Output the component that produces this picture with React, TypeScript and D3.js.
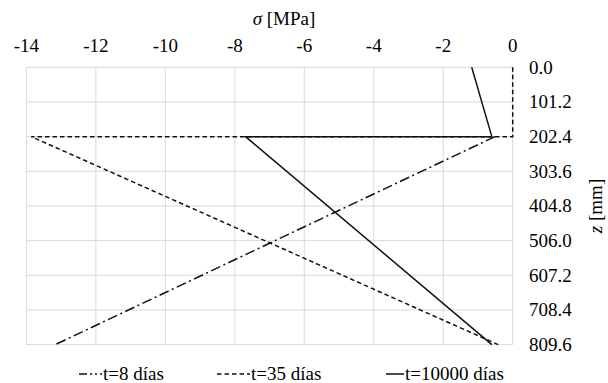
import React from "react";
import * as d3 from "d3";

const xTicks = [-14, -12, -10, -8, -6, -4, -2, 0];
const yTicks = [0.0, 101.2, 202.4, 303.6, 404.8, 506.0, 607.2, 708.4, 809.6];

const s8Sigma = [-0.51, -13.17];
const s8Z = [202.4, 809.6];
const s35Sigma = [0, 0, -13.86, -0.42];
const s35Z = [0, 202.4, 202.4, 809.6];
const s10000Sigma = [-1.18, -0.6, -7.69, -0.6];
const s10000Z = [0, 202.4, 202.4, 809.6];

const seriesNames = ["t=8 días", "t=35 días", "t=10000 días"];
const dashes = ["10,3.5,2,3.5", "4.5,3", ""];
const legendDashes = ["8,3,2,3,2,3", "4.5,3", ""];

const W = 608;
const H = 383;
const FONT = "Liberation Serif, DejaVu Serif, serif";
const ts = { fontFamily: FONT };

export default function App() {
  const x = d3.scaleLinear().domain([-14, 0]).range([26.4, 512.7]);
  const y = d3.scaleLinear().domain([0, 809.6]).range([67.3, 344.6]);
  const line = d3
    .line<[number, number]>()
    .x((d) => x(d[0]))
    .y((d) => y(d[1]));
  const series = [
    d3.zip(s8Sigma, s8Z) as [number, number][],
    d3.zip(s35Sigma, s35Z) as [number, number][],
    d3.zip(s10000Sigma, s10000Z) as [number, number][],
  ];
  const legendX = [79, 217, 386];
  const legendW = [23, 33, 18];
  const legendY = 374;
  return (
    <svg
      width={W}
      height={H}
      style={{ position: "absolute", left: 0, top: 0, fontFamily: FONT }}
      fontFamily={FONT}
    >
      <rect width={W} height={H} fill="#fff" />
      {xTicks.map((t) => (
        <line
          key={"gx" + t}
          x1={x(t)}
          x2={x(t)}
          y1={y(0)}
          y2={y(809.6)}
          stroke="#d9d9d9"
          strokeWidth={1}
        />
      ))}
      {yTicks.map((t) => (
        <line
          key={"gy" + t}
          x1={x(-14)}
          x2={x(0)}
          y1={y(t)}
          y2={y(t)}
          stroke="#d9d9d9"
          strokeWidth={1}
        />
      ))}
      {series.map((s, i) => (
        <path
          key={"s" + i}
          d={line(s) || ""}
          fill="none"
          stroke="#111"
          strokeWidth={1.5}
          strokeDasharray={dashes[i] || undefined}
        />
      ))}
      {xTicks.map((t) => (
        <text
          key={"tx" + t}
          x={x(t)}
          y={52}
          textAnchor="middle"
          fontSize={19}
          fill="#000"
          fontFamily={FONT}
          style={ts}
        >
          {t}
        </text>
      ))}
      {yTicks.map((t) => (
        <text
          key={"ty" + t}
          x={529}
          y={y(t) + 6.5}
          textAnchor="start"
          fontSize={19}
          fill="#000"
          fontFamily={FONT}
          style={ts}
        >
          {t.toFixed(1)}
        </text>
      ))}
      <text x={284} y={25} textAnchor="middle" fontSize={19} fill="#000" fontFamily={FONT} style={ts}>
        <tspan fontStyle="italic">σ</tspan> [MPa]
      </text>
      <text
        transform={`translate(602, ${(y(0) + y(809.6)) / 2}) rotate(-90)`}
        textAnchor="middle"
        fontSize={19}
        fill="#000"
        fontFamily={FONT}
        style={ts}
      >
        <tspan fontStyle="italic">z</tspan> [mm]
      </text>
      {seriesNames.map((n, i) => (
        <g key={"lg" + i}>
          <line
            x1={legendX[i]}
            x2={legendX[i] + legendW[i]}
            y1={legendY}
            y2={legendY}
            stroke="#111"
            strokeWidth={1.5}
            strokeDasharray={legendDashes[i] || undefined}
          />
          <text
            x={legendX[i] + legendW[i] + 1}
            y={legendY + 6}
            fontSize={19}
            fill="#000"
            fontFamily={FONT}
            style={ts}
          >
            {n}
          </text>
        </g>
      ))}
    </svg>
  );
}
